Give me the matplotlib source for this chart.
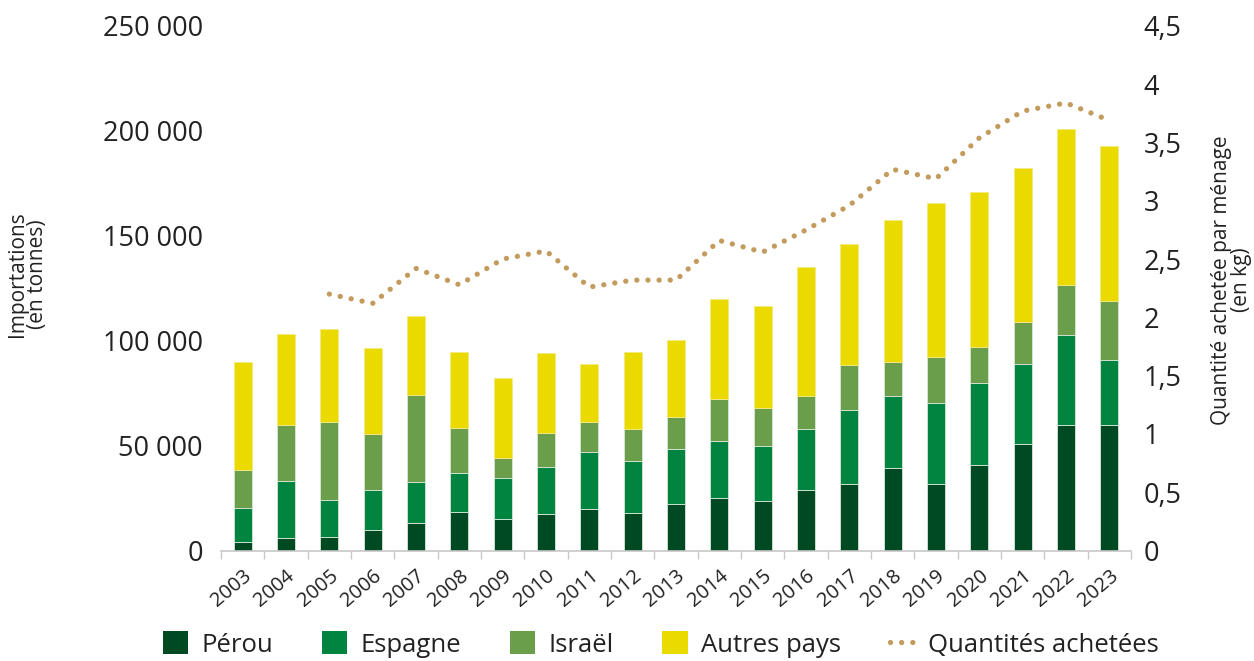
import matplotlib
matplotlib.use("Agg")
import matplotlib.pyplot as plt
from matplotlib.patches import Patch
from matplotlib.lines import Line2D
import numpy as np

years = [str(y) for y in range(2003, 2024)]
perou   = [3900, 5800, 6200, 9600, 13200, 18300, 14800, 17200, 20000, 18100, 22200,
           25100, 23400, 28900, 31500, 39400, 31600, 40800, 51000, 59600, 60000]
espagne = [16400, 27200, 17700, 19000, 19500, 18700, 19800, 22700, 27000, 24600, 26100,
           27100, 26500, 29100, 35500, 34100, 38700, 39200, 37800, 43100, 30800]
israel  = [18000, 26900, 37400, 26700, 41300, 21400, 9500, 16000, 14300, 15300, 15200,
           19900, 17900, 15700, 21300, 16200, 21800, 17000, 20100, 24000, 28000]
autres  = [51400, 43300, 44300, 41200, 37600, 36100, 38000, 38100, 27500, 36600, 36700,
           47900, 48700, 61400, 57900, 68000, 73300, 74000, 73200, 74400, 73800]
quantites = [None, None, 2.20, 2.12, 2.42, 2.28, 2.50, 2.57, 2.26, 2.32, 2.32,
             2.66, 2.56, 2.75, 2.96, 3.27, 3.19, 3.54, 3.77, 3.84, 3.69]

left_ticks = [0, 50000, 100000, 150000, 200000, 250000]
left_labels = ["0", "50 000", "100 000", "150 000", "200 000", "250 000"]
right_ticks = [0, 0.5, 1, 1.5, 2, 2.5, 3, 3.5, 4, 4.5]
right_labels = ["0", "0,5", "1", "1,5", "2", "2,5", "3", "3,5", "4", "4,5"]

c_perou = "#004A23"
c_esp = "#00843F"
c_isr = "#6A9E4B"
c_aut = "#EBDA00"
c_line = "#C39B5C"
txt = "#222222"

plt.rcParams['font.family'] = ['Open Sans', 'DejaVu Sans']

fig = plt.figure(figsize=(12.54, 6.61), dpi=100)
ax = fig.add_axes([221/1254, 1 - 550.5/661, (1131-221)/1254, (550.5-26)/661])

x = np.arange(len(years))
w = 0.41
ec = "#d8e6d8"
p = np.array(perou); e = np.array(espagne); i = np.array(israel); a = np.array(autres)
ax.bar(x, p, w, color=c_perou, edgecolor=ec, linewidth=0.6)
ax.bar(x, e, w, bottom=p, color=c_esp, edgecolor=ec, linewidth=0.6)
ax.bar(x, i, w, bottom=p+e, color=c_isr, edgecolor=ec, linewidth=0.6)
ax.bar(x, a, w, bottom=p+e+i, color=c_aut, edgecolor="#f3ea80", linewidth=0.6)

ax.set_xlim(-0.5, len(years) - 0.5)
ax.set_ylim(0, 250000)
ax.set_yticks(left_ticks)
ax.set_yticklabels(left_labels, fontsize=19.5, color=txt)
ax.tick_params(axis='y', length=0, pad=13)
ax.set_xticks(x)
ax.set_xticklabels(years, rotation=40, ha='right', va='top', rotation_mode='anchor',
                   fontsize=14.5, color=txt)
ax.set_xticks(np.arange(-0.5, len(years)), minor=True)
ax.tick_params(axis='x', which='major', length=0, pad=11)
ax.tick_params(axis='x', which='minor', length=6, color="#c8c8c8", width=1)
for s in ['top', 'left', 'right']:
    ax.spines[s].set_visible(False)
ax.spines['bottom'].set_color("#c8c8c8")
ax.spines['bottom'].set_linewidth(1.2)

ax.set_ylabel("Importations\n(en tonnes)", fontsize=15, color=txt, linespacing=0.92)
ax.yaxis.set_label_coords(-0.19, 0.527)

ax2 = ax.twinx()
ax2.set_ylim(0, 4.5)
xq = [xx for xx, q in zip(x, quantites) if q is not None]
yq = [q for q in quantites if q is not None]
ax2.plot(xq, yq, color=c_line, linewidth=3.8, linestyle=(0, (0.01, 2.1)),
         dash_capstyle='round')
ax2.set_yticks(right_ticks)
ax2.set_yticklabels(right_labels, fontsize=19.5, color=txt)
ax2.tick_params(axis='y', length=0, pad=9)
for s in ax2.spines.values():
    s.set_visible(False)
ax2.set_ylabel("Quantité achetée par ménage\n(en kg)", fontsize=15, color=txt,
               linespacing=0.92, rotation=90)
ax2.yaxis.set_label_coords(1.088, 0.516)

handles = [Patch(facecolor=c_perou, label="Pérou"),
           Patch(facecolor=c_esp, label="Espagne"),
           Patch(facecolor=c_isr, label="Israël"),
           Patch(facecolor=c_aut, label="Autres pays"),
           Line2D([0], [0], color=c_line, linewidth=3.8, linestyle=(0, (0.01, 2.1)),
                  dash_capstyle='round', label="Quantités achetées")]
leg = fig.legend(handles=handles, loc='lower center', bbox_to_anchor=(0.527, -0.03),
                 ncol=5, frameon=False, fontsize=18.5, handlelength=1.0,
                 handleheight=1.0, handletextpad=0.5, columnspacing=1.9)
for t in leg.get_texts():
    t.set_color(txt)

fig.savefig("out.png", dpi=100)
